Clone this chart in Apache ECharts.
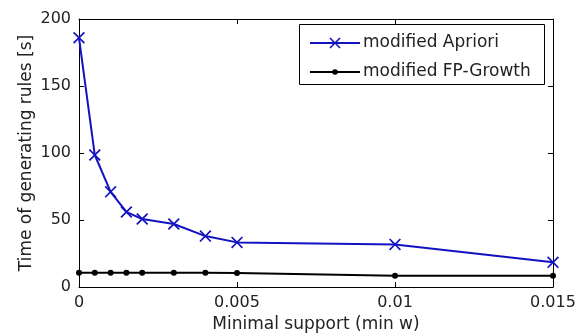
<!DOCTYPE html>
<html>
<head>
<meta charset="utf-8">
<script src="https://cdn.jsdelivr.net/npm/echarts@6/dist/echarts.min.js"></script>
<style>
  html, body { margin: 0; padding: 0; background: #fff; }
  #chart { width: 584px; height: 336px; }
</style>
</head>
<body>
<div id="chart"></div>
<script>
// minimal support values (x) and runtime in seconds (y)
const minSupport = [0, 0.0005, 0.001, 0.0015, 0.002, 0.003, 0.004, 0.005, 0.01, 0.015];
const aprioriTime = [186, 98.5, 71, 56, 50.7, 47, 38, 33.3, 31.8, 18.4];
const fpGrowthTime = [10.7, 10.7, 10.7, 10.7, 10.7, 10.7, 10.6, 10.5, 8.4, 8.4];
const xTicks = [0, 0.005, 0.01, 0.015];
const yTicks = [0, 50, 100, 150, 200];

const FONT = 'DejaVu Sans';
const TXT = '#222';
const BLUE = '#1212c0';
const X_MARK = 'path://M0,1L1,0L5,4L9,0L10,1L6,5L10,9L9,10L5,6L1,10L0,9L4,5Z';

const chart = echarts.init(document.getElementById('chart'));

const pair = (xs, ys) => xs.map((x, i) => [x, ys[i]]);
const fmtX = v => (v === 0 ? '0' : String(+v.toFixed(3)));

const baseX = {
  type: 'value',
  min: 0,
  max: 0.015,
  interval: 0.005,
  splitLine: { show: false },
  axisLine: { show: true, onZero: false, lineStyle: { color: '#000', width: 1 } },
  axisTick: { show: true, inside: true, length: 5, lineStyle: { color: '#000' } }
};
const baseY = {
  type: 'value',
  min: 0,
  max: 200,
  interval: 50,
  splitLine: { show: false },
  axisLine: { show: true, onZero: false, lineStyle: { color: '#000', width: 1 } },
  axisTick: { show: true, inside: true, length: 5, lineStyle: { color: '#000' } }
};

// one legend per row so each marker can get its own size
const legendRow = (name, top, h) => ({
  orient: 'vertical',
  left: 309,
  top: top,
  padding: 0,
  itemWidth: 50,
  itemHeight: h,
  z: 10,
  textStyle: { fontFamily: FONT, fontSize: 17, lineHeight: 20, color: TXT, padding: [0, 0, 0, -2] },
  data: [name]
});

const options = {
  animation: false,
  backgroundColor: '#fff',
  textStyle: { fontFamily: FONT },
  grid: { left: 79, right: 31, top: 19, bottom: 49, containLabel: false, outerBoundsMode: 'none' },
  graphic: [{
    type: 'rect',
    shape: { x: 299.5, y: 24.5, width: 245, height: 60 },
    style: { fill: '#fff', stroke: '#000', lineWidth: 1 },
    z: 1
  }],
  legend: [
    legendRow('modified Apriori', 33, 14),
    legendRow('modified FP-Growth', 62, 7)
  ],
  xAxis: [
    Object.assign({}, baseX, {
      position: 'bottom',
      name: 'Minimal support (min w)',
      nameLocation: 'middle',
      nameGap: 29,
      nameTextStyle: { fontFamily: FONT, fontSize: 17, color: TXT },
      axisLabel: {
        fontFamily: FONT, fontSize: 16, color: TXT, margin: 8,
        formatter: v => (xTicks.some(t => Math.abs(t - v) < 1e-9) ? fmtX(v) : '')
      }
    }),
    Object.assign({}, baseX, { position: 'top', axisLabel: { show: false } })
  ],
  yAxis: [
    Object.assign({}, baseY, {
      position: 'left',
      name: 'Time of generating rules [s]',
      nameLocation: 'middle',
      nameGap: 44,
      nameMoveOverlap: false,
      nameTextStyle: { fontFamily: FONT, fontSize: 17, color: TXT },
      axisLabel: {
        fontFamily: FONT, fontSize: 16, color: TXT, margin: 8,
        formatter: v => (yTicks.includes(v) ? String(v) : '')
      }
    }),
    Object.assign({}, baseY, { position: 'right', axisLabel: { show: false } })
  ],
  series: [
    {
      name: 'modified Apriori',
      type: 'line',
      data: pair(minSupport, aprioriTime),
      symbol: X_MARK,
      symbolSize: 12,
      showAllSymbol: true,
      color: BLUE,
      lineStyle: { color: BLUE, width: 2 },
      itemStyle: { color: BLUE },
      z: 3
    },
    {
      name: 'modified FP-Growth',
      type: 'line',
      data: pair(minSupport, fpGrowthTime),
      symbol: 'circle',
      symbolSize: 6,
      showAllSymbol: true,
      color: '#000',
      lineStyle: { color: '#000', width: 2 },
      itemStyle: { color: '#000' },
      z: 2
    }
  ]
};

chart.setOption(options);
</script>
</body>
</html>
